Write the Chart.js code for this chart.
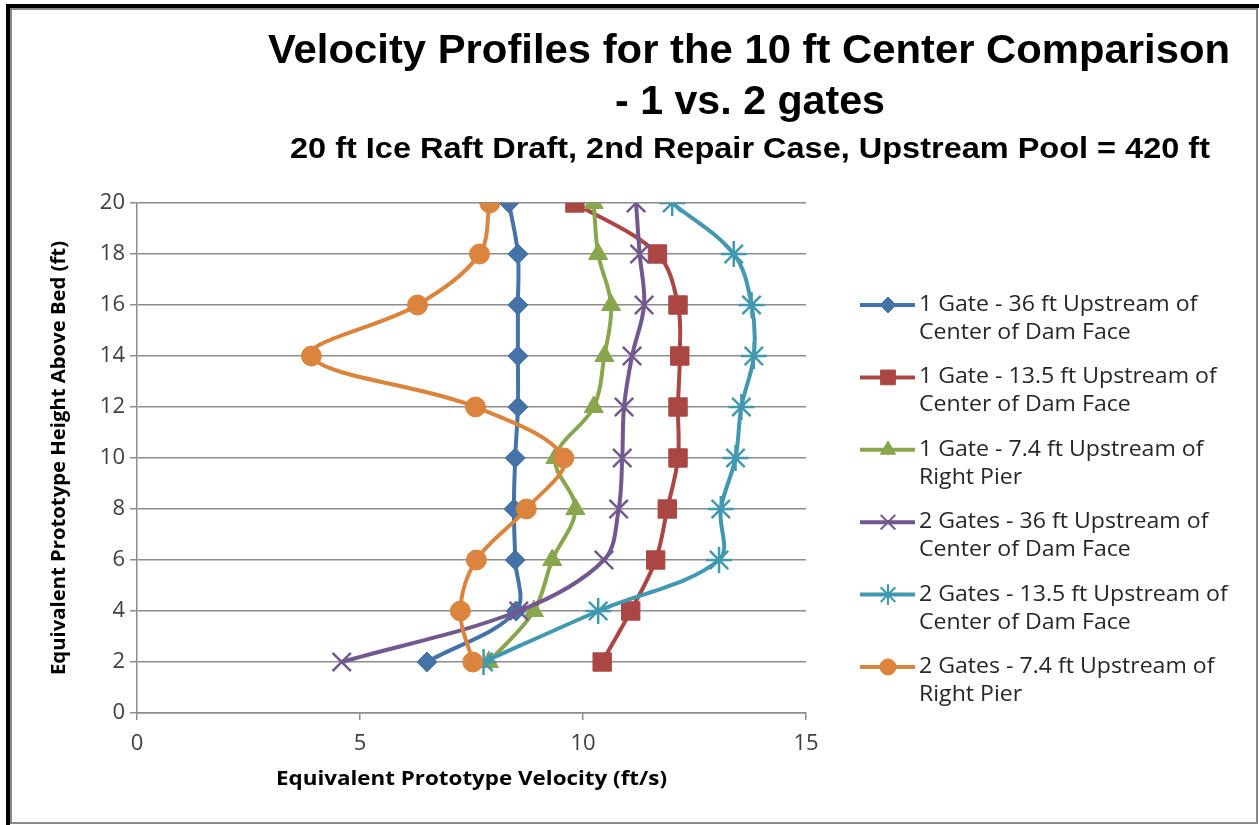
<!DOCTYPE html>
<html>
<head>
<meta charset="utf-8">
<script src="https://cdn.jsdelivr.net/npm/chart.js@4/dist/chart.umd.min.js"></script>
<style>
  html, body { margin: 0; padding: 0; background: #fff; }
  canvas { display: block; }
</style>
</head>
<body>
<canvas id="chart" width="1259" height="825"></canvas>
<script>
// Heights above bed (ft), top to bottom
const heights = [20, 18, 16, 14, 12, 10, 8, 6, 4, 2];

// Velocities (ft/s) per profile, same order as heights
const gate1At36ft = [8.34, 8.54, 8.54, 8.54, 8.54, 8.48, 8.45, 8.48, 8.50, 6.50];
const gate1At13ft = [9.82, 11.67, 12.13, 12.17, 12.13, 12.13, 11.89, 11.63, 11.07, 10.43];
const gate1At7ft = [10.24, 10.34, 10.63, 10.48, 10.24, 9.38, 9.83, 9.31, 8.90, 7.89];
const gates2At36ft = [11.19, 11.27, 11.37, 11.10, 10.92, 10.88, 10.80, 10.47, 8.56, 4.59];
const gates2At13ft = [12.00, 13.38, 13.78, 13.83, 13.55, 13.42, 13.09, 13.05, 10.34, 7.77];
const gates2At7ft = [7.91, 7.68, 6.29, 3.91, 7.59, 9.57, 8.73, 7.61, 7.25, 7.53];

// Legend labels (two lines each)
const seriesLabels = [
    ['1 Gate - 36 ft Upstream of', 'Center of Dam Face'],
    ['1 Gate - 13.5 ft Upstream of', 'Center of Dam Face'],
    ['1 Gate - 7.4 ft Upstream of', 'Right Pier'],
    ['2 Gates - 36 ft Upstream of', 'Center of Dam Face'],
    ['2 Gates - 13.5 ft Upstream of', 'Center of Dam Face'],
    ['2 Gates - 7.4 ft Upstream of', 'Right Pier']
];

const titleLines = ['Velocity Profiles for the 10 ft Center Comparison', '- 1 vs. 2 gates'];
const subtitleText = '20 ft Ice Raft Draft, 2nd Repair Case, Upstream Pool = 420 ft';
const xTitle = 'Equivalent Prototype Velocity (ft/s)';
const yTitle = 'Equivalent Prototype Height Above Bed (ft)';

const seriesValues = [gate1At36ft, gate1At13ft, gate1At7ft, gates2At36ft, gates2At13ft, gates2At7ft];
const seriesColors = ['#4572A7', '#AA4643', '#89A54E', '#71588F', '#4198AF', '#DB843D'];
const seriesMarkers = ['rectRot', 'rect', 'triangle', 'crossRot', 'star', 'circle'];
const markerSizes = [10, 13, 11, 13, 13, 10];

function toPoints(values) {
    return values.map((v, i) => ({ x: v, y: heights[i] }));
}

const datasets = seriesValues.map((values, i) => ({
    label: seriesLabels[i].join(' '),
    data: toPoints(values),
    showLine: true,
    borderColor: seriesColors[i],
    backgroundColor: seriesColors[i],
    borderWidth: 4,
    tension: 0.35,
    pointStyle: seriesMarkers[i],
    pointRadius: markerSizes[i],
    pointBorderWidth: (seriesMarkers[i] === 'crossRot' || seriesMarkers[i] === 'star') ? 2.5 : 1,
    order: 6 - i
}));

// Draw text squeezed/stretched to a target width, optionally rotated
function fitText(ctx, text, cx, cy, width, font, color, angle) {
    ctx.save();
    ctx.font = font;
    ctx.fillStyle = color;
    ctx.textAlign = 'center';
    ctx.textBaseline = 'middle';
    const w = ctx.measureText(text).width;
    ctx.translate(cx, cy);
    if (angle) ctx.rotate(angle);
    ctx.scale(width / w, 1);
    ctx.fillText(text, 0, 0);
    ctx.restore();
}

// Left-aligned text with a horizontal stretch factor
function stretchText(ctx, text, x, y, sx) {
    ctx.save();
    ctx.translate(x, y);
    ctx.scale(sx, 1);
    ctx.fillText(text, 0, 0);
    ctx.restore();
}

const framePlugin = {
    id: 'frame',
    beforeDraw(chart) {
        const ctx = chart.ctx;
        ctx.save();
        ctx.fillStyle = '#fff';
        ctx.fillRect(0, 0, chart.width, chart.height);
        // black shadow edge on top/left
        ctx.fillStyle = '#000';
        ctx.fillRect(6, 4, 4, chart.height - 4);
        ctx.fillRect(6, 4, chart.width - 6, 4);
        // gray chart border
        ctx.strokeStyle = '#8a8a8a';
        ctx.lineWidth = 2;
        ctx.strokeRect(11, 9, 1246, 814);
        ctx.restore();
    }
};

const titlePlugin = {
    id: 'titles',
    afterDraw(chart) {
        const ctx = chart.ctx;
        const area = chart.chartArea;
        const midX = (area.left + area.right) / 2;
        const midY = (area.top + area.bottom) / 2;
        fitText(ctx, titleLines[0], 749, 52, 962, 'bold 41px "Liberation Sans Narrow", "Liberation Sans"', '#000');
        fitText(ctx, titleLines[1], 750, 103, 270, 'bold 41px "Liberation Sans Narrow", "Liberation Sans"', '#000');
        fitText(ctx, subtitleText, 750, 150, 920, 'bold 29px "Liberation Sans Narrow", "Liberation Sans"', '#000');
        // axis titles
        fitText(ctx, xTitle, midX, 780, 391, 'bold 19px "Open Sans"', '#000');
        fitText(ctx, yTitle, 60, midY, 434, 'bold 19px "Open Sans"', '#000', -Math.PI / 2);
    }
};

const legendPlugin = {
    id: 'sideLegend',
    afterDraw(chart) {
        const ctx = chart.ctx;
        ctx.save();
        seriesLabels.forEach((lines, i) => {
            const y = 305 + i * 72.4;
            ctx.strokeStyle = seriesColors[i];
            ctx.lineWidth = 4;
            ctx.beginPath();
            ctx.moveTo(860, y);
            ctx.lineTo(915, y);
            ctx.stroke();
            ctx.fillStyle = seriesColors[i];
            ctx.strokeStyle = seriesColors[i];
            const cross = seriesMarkers[i] === 'crossRot' || seriesMarkers[i] === 'star';
            ctx.lineWidth = cross ? 2 : 1;
            Chart.helpers.drawPoint(ctx, {
                pointStyle: seriesMarkers[i],
                radius: markerSizes[i] * 0.8,
                borderWidth: cross ? 2 : 1,
                rotation: 0
            }, 888, y);
            ctx.fillStyle = '#262626';
            ctx.font = '21px "Open Sans"';
            ctx.textAlign = 'left';
            ctx.textBaseline = 'middle';
            stretchText(ctx, lines[0], 919, y, 1.1);
            stretchText(ctx, lines[1], 919, y + 28, 1.1);
        });
        ctx.restore();
    }
};

const tickFont = { family: 'Open Sans', size: 22 };

new Chart(document.getElementById('chart').getContext('2d'), {
    type: 'scatter',
    data: { datasets },
    plugins: [framePlugin, titlePlugin, legendPlugin],
    options: {
        responsive: false,
        animation: false,
        devicePixelRatio: 1,
        layout: { padding: { left: 44, top: 203, right: 453, bottom: 28 } },
        plugins: {
            legend: { display: false },
            title: { display: false },
            tooltip: { enabled: false }
        },
        scales: {
            x: {
                type: 'linear',
                min: 0,
                max: 15,
                ticks: { stepSize: 5, color: '#404040', font: tickFont, padding: 11 },
                grid: { drawOnChartArea: false, drawTicks: true, tickLength: 7, color: '#8c8c8c', lineWidth: 1.5 },
                border: { color: '#8c8c8c', width: 1.5 },
                afterFit(scale) { scale.height = 825 - 28 - 713; }
            },
            y: {
                type: 'linear',
                min: 0,
                max: 20,
                ticks: { stepSize: 2, color: '#404040', font: tickFont, padding: 5 },
                grid: { color: '#8c8c8c', lineWidth: 1.5, tickLength: 7 },
                border: { color: '#8c8c8c', width: 1.5 },
                afterFit(scale) { scale.width = 137 - 44; }
            }
        }
    }
});
</script>
</body>
</html>
